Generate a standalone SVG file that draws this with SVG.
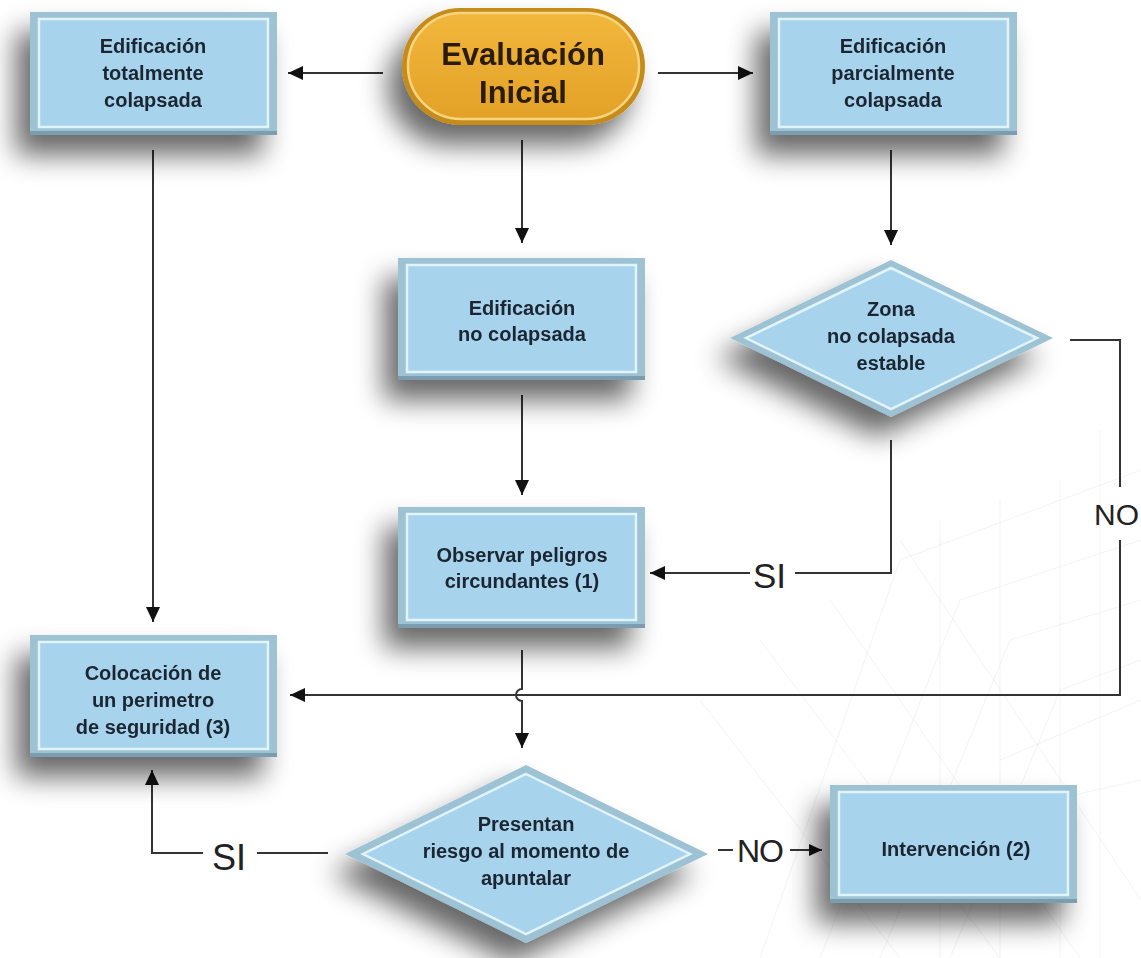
<svg xmlns="http://www.w3.org/2000/svg" width="1141" height="958" viewBox="0 0 1141 958">
<defs>
  <filter id="sh" x="-35%" y="-35%" width="170%" height="180%">
    <feGaussianBlur in="SourceAlpha" stdDeviation="14"/>
    <feOffset dx="-14" dy="20" result="b"/>
    <feComponentTransfer><feFuncA type="linear" slope="0.6"/></feComponentTransfer>
    <feMerge><feMergeNode/><feMergeNode in="SourceGraphic"/></feMerge>
  </filter>
  <linearGradient id="gold" x1="0" y1="0" x2="0" y2="1">
    <stop offset="0" stop-color="#f1b73c"/>
    <stop offset="1" stop-color="#e3a127"/>
  </linearGradient>
  <marker id="ah" markerUnits="userSpaceOnUse" markerWidth="16" markerHeight="14" refX="15" refY="7" orient="auto">
    <path d="M0,0 L15,7 L0,14 Z" fill="#111"/>
  </marker>
  <marker id="ahs" markerUnits="userSpaceOnUse" markerWidth="14" markerHeight="12" refX="13" refY="6" orient="auto">
    <path d="M0,0 L13,6 L0,12 Z" fill="#111"/>
  </marker>
</defs>
<style>
  .bo{fill:#9dc2d4}
  .bb{fill:#7c9db0}
  .bi{fill:#a7d3ec;stroke:#e2f4fb;stroke-width:2.5}
  .t{font-family:"Liberation Sans",Arial,sans-serif;font-weight:bold;font-size:20px;fill:#1b2631;text-anchor:middle}
  .tp{font-family:"Liberation Sans",Arial,sans-serif;font-weight:bold;font-size:31px;fill:#2a1a08;text-anchor:middle}
  .lab{font-family:"Liberation Sans",Arial,sans-serif;font-size:35px;fill:#222}
  .c{fill:none;stroke:#333;stroke-width:2}
  .bg{fill:none;stroke:#dfe4e8;stroke-width:1}
</style>
<rect width="1141" height="958" fill="#ffffff"/>

<g id="background" opacity="0.45">
  <path class="bg" d="M760,958 L900,560 L1141,470 M820,958 L960,600 L1141,540 M880,958 L1010,640 L1141,600 M950,958 L1060,690 L1141,660 M1000,760 L1141,700 M960,820 L1141,780 M940,520 L940,958 M1000,500 L1000,958 M1060,480 L1060,958 M700,700 L900,958 M760,640 L1000,958 M830,600 L1080,958 M900,540 L1141,900 M1100,430 L1100,958"/>
</g>

<g id="connectors">
  <line class="c" x1="383" y1="73" x2="288" y2="73" marker-end="url(#ah)"/>
  <line class="c" x1="658" y1="73" x2="753" y2="73" marker-end="url(#ah)"/>
  <line class="c" x1="522" y1="140" x2="522" y2="243" marker-end="url(#ah)"/>
  <line class="c" x1="891" y1="150" x2="891" y2="245" marker-end="url(#ah)"/>
  <line class="c" x1="153" y1="150" x2="153" y2="622" marker-end="url(#ah)"/>
  <line class="c" x1="522" y1="395" x2="522" y2="495" marker-end="url(#ah)"/>
  <path class="c" d="M891,440 V573 H795"/>
  <line class="c" x1="750" y1="573" x2="650" y2="573" marker-end="url(#ah)"/>
  <text class="lab" x="753" y="588">SI</text>
  <path class="c" d="M1070,340 H1120 V487"/>
  <path class="c" d="M1120,540 V695 H290" marker-end="url(#ah)"/>
  <text class="lab" x="1094" y="525" style="font-size:30px">NO</text>
  <path class="c" d="M522,650 V689 A6,6 0 0 0 522,701 V748" marker-end="url(#ah)"/>
  <line class="c" x1="328" y1="853" x2="257" y2="853"/>
  <text class="lab" x="212" y="870" style="font-size:36px">SI</text>
  <path class="c" d="M203,853 H152 V770" marker-end="url(#ah)"/>
  <line class="c" x1="718" y1="850" x2="733" y2="850"/>
  <text class="lab" x="737" y="862" style="font-size:32px;letter-spacing:-1px">NO</text>
  <line class="c" x1="790" y1="850" x2="822" y2="850" marker-end="url(#ahs)"/>
</g>

<g id="n-inicial" filter="url(#sh)">
  <rect x="402" y="8" width="243" height="117" rx="58.5" fill="#c58c1c"/>
  <rect x="408" y="13" width="231" height="106" rx="53" fill="url(#gold)" stroke="#f7d580" stroke-width="2.5"/>
  <text class="tp" x="523" y="65">Evaluación</text>
  <text class="tp" x="523" y="103">Inicial</text>
</g>

<g id="n-total" filter="url(#sh)">
  <rect class="bo" x="30" y="12" width="247" height="123"/>
  <rect class="bb" x="30" y="131" width="247" height="4"/>
  <rect class="bi" x="39" y="19" width="229" height="108"/>
  <text class="t" x="153" y="53">Edificación</text>
  <text class="t" x="153" y="80">totalmente</text>
  <text class="t" x="153" y="107">colapsada</text>
</g>

<g id="n-parcial" filter="url(#sh)">
  <rect class="bo" x="770" y="12" width="247" height="123"/>
  <rect class="bb" x="770" y="131" width="247" height="4"/>
  <rect class="bi" x="779" y="19" width="229" height="108"/>
  <text class="t" x="893" y="53">Edificación</text>
  <text class="t" x="893" y="80">parcialmente</text>
  <text class="t" x="893" y="107">colapsada</text>
</g>

<g id="n-nocolapsada" filter="url(#sh)">
  <rect class="bo" x="398" y="258" width="247" height="122"/>
  <rect class="bb" x="398" y="376" width="247" height="4"/>
  <rect class="bi" x="407" y="265" width="229" height="107"/>
  <text class="t" x="522" y="315">Edificación</text>
  <text class="t" x="522" y="341">no colapsada</text>
</g>

<g id="n-zona" filter="url(#sh)">
  <polygon class="bo" points="891,260 1053,338 891,417 730,338"/>
  <polygon class="bi" points="891,268 1037,338 891,409 746,338"/>
  <text class="t" x="891" y="316">Zona</text>
  <text class="t" x="891" y="343">no colapsada</text>
  <text class="t" x="891" y="370">estable</text>
</g>

<g id="n-observar" filter="url(#sh)">
  <rect class="bo" x="398" y="507" width="247" height="121"/>
  <rect class="bb" x="398" y="624" width="247" height="4"/>
  <rect class="bi" x="407" y="514" width="229" height="106"/>
  <text class="t" x="522" y="562">Observar peligros</text>
  <text class="t" x="522" y="588">circundantes (1)</text>
</g>

<g id="n-perimetro" filter="url(#sh)">
  <rect class="bo" x="30" y="635" width="247" height="122"/>
  <rect class="bb" x="30" y="753" width="247" height="4"/>
  <rect class="bi" x="39" y="642" width="229" height="107"/>
  <text class="t" x="153" y="680">Colocación de</text>
  <text class="t" x="153" y="707">un perimetro</text>
  <text class="t" x="153" y="734">de seguridad (3)</text>
</g>

<g id="n-riesgo" filter="url(#sh)">
  <polygon class="bo" points="526,765 708,854 526,943 345,854"/>
  <polygon class="bi" points="526,774 690,854 526,934 363,854"/>
  <text class="t" x="526" y="831">Presentan</text>
  <text class="t" x="526" y="858">riesgo al momento de</text>
  <text class="t" x="526" y="885">apuntalar</text>
</g>

<g id="n-intervencion" filter="url(#sh)">
  <rect class="bo" x="830" y="785" width="247" height="118"/>
  <rect class="bb" x="830" y="899" width="247" height="4"/>
  <rect class="bi" x="839" y="792" width="229" height="103"/>
  <text class="t" x="956" y="856">Intervención (2)</text>
</g>
</svg>
